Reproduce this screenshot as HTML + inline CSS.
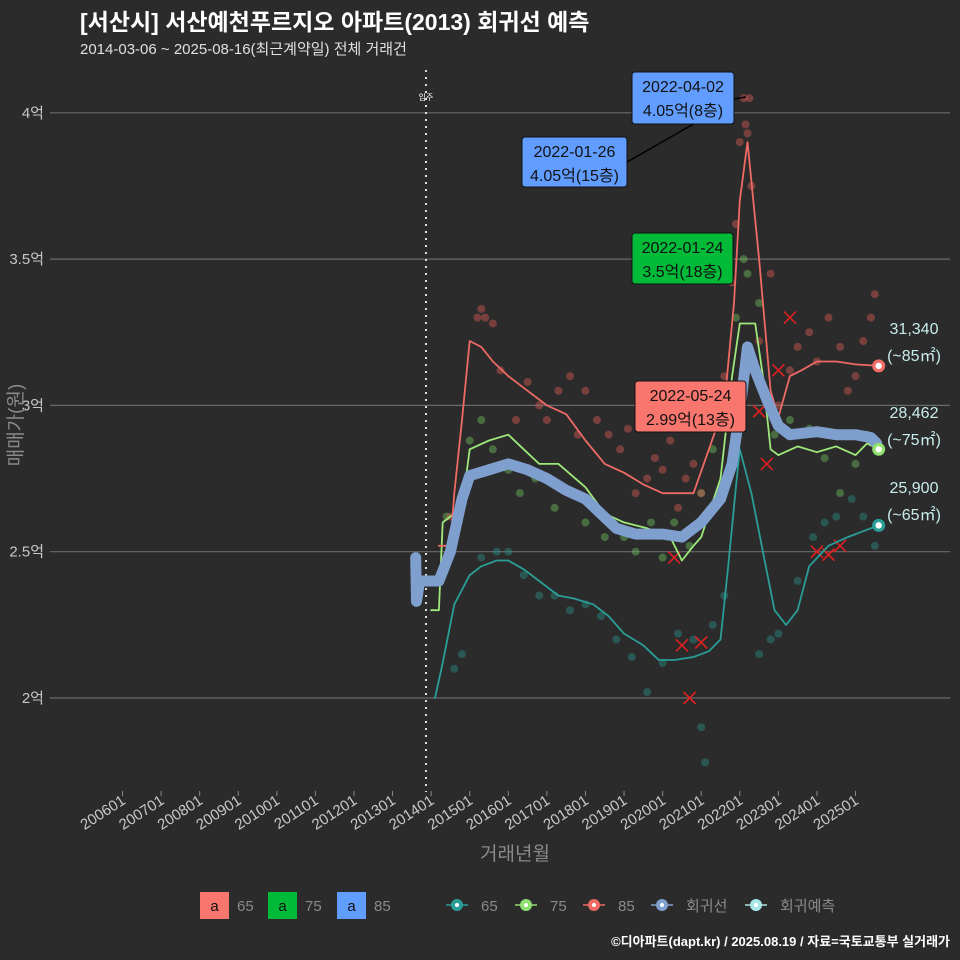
<!DOCTYPE html>
<html><head><meta charset="utf-8">
<style>
html,body{margin:0;padding:0;background:#2b2b2b;}
#wrap{position:relative;width:960px;height:960px;background:#2b2b2b;overflow:hidden;font-family:"Liberation Sans","Noto Sans CJK KR",sans-serif;}
svg text{font-family:"Liberation Sans","Noto Sans CJK KR",sans-serif;}
</style></head><body>
<div id="wrap">
<svg id="chart" width="960" height="960"></svg>
</div>
<script>
// ---- data ----
const xTickLabels = ["200601","200701","200801","200901","201001","201101","201201","201301","201401","201501","201601","201701","201801","201901","202001","202101","202201","202301","202401","202501"];
const yTickValues = [2, 2.5, 3, 3.5, 4];
const yTickLabels = ["2억","2.5억","3억","3.5억","4억"];
const regT = [2013.6,2013.62,2013.7,2014.2,2014.5,2014.8,2015.0,2015.5,2016.0,2016.5,2017.0,2017.5,2018.0,2018.4,2018.8,2019.3,2020.0,2020.5,2021.0,2021.5,2021.8,2022.0,2022.2,2022.4,2022.7,2023.0,2023.3,2024.0,2024.5,2025.0,2025.4,2025.55];
const regV = [2.48,2.33,2.4,2.4,2.5,2.68,2.76,2.78,2.8,2.78,2.75,2.71,2.68,2.63,2.58,2.56,2.56,2.55,2.6,2.68,2.8,2.98,3.2,3.12,3.02,2.93,2.9,2.91,2.9,2.9,2.89,2.87];
const redT = [2014.2,2014.5,2014.6,2014.8,2015.0,2015.3,2015.6,2016.0,2016.5,2017.0,2017.5,2018.0,2018.5,2019.0,2019.5,2020.0,2020.5,2020.8,2021.2,2021.6,2021.85,2022.0,2022.2,2022.5,2022.8,2023.0,2023.3,2023.6,2024.0,2024.5,2025.0,2025.6];
const redV = [2.52,2.52,2.7,2.95,3.22,3.2,3.15,3.1,3.05,3.0,2.97,2.88,2.8,2.77,2.73,2.7,2.7,2.7,2.85,3.0,3.35,3.7,3.9,3.5,3.05,2.96,3.1,3.12,3.15,3.15,3.14,3.135];
const grnT = [2014.0,2014.2,2014.3,2014.8,2015.0,2015.5,2016.0,2016.4,2016.8,2017.3,2018.0,2018.5,2019.0,2019.6,2020.2,2020.5,2020.8,2021.0,2021.5,2021.8,2022.0,2022.4,2022.6,2022.8,2023.0,2023.5,2024.0,2024.5,2025.0,2025.3,2025.6];
const grnV = [2.3,2.3,2.6,2.65,2.85,2.88,2.9,2.85,2.8,2.8,2.72,2.63,2.6,2.58,2.55,2.47,2.52,2.55,2.75,3.1,3.28,3.28,3.1,2.85,2.83,2.86,2.84,2.86,2.83,2.87,2.85];
const tealT = [2014.1,2014.3,2014.6,2015.0,2015.3,2015.7,2016.0,2016.4,2016.8,2017.3,2017.7,2018.2,2018.6,2019.0,2019.5,2019.9,2020.3,2020.8,2021.2,2021.5,2021.7,2021.9,2022.0,2022.3,2022.6,2022.9,2023.2,2023.5,2023.8,2024.3,2024.8,2025.2,2025.6];
const tealV = [2.0,2.12,2.32,2.42,2.45,2.47,2.47,2.44,2.4,2.35,2.34,2.32,2.28,2.22,2.18,2.13,2.13,2.14,2.16,2.2,2.45,2.72,2.85,2.7,2.5,2.3,2.25,2.3,2.45,2.52,2.55,2.57,2.59];
const redPtT = [2014.5,2015.2,2015.3,2015.4,2015.6,2015.8,2016.2,2016.5,2016.8,2017.0,2017.3,2017.6,2017.8,2018.0,2018.3,2018.6,2018.9,2019.1,2019.3,2019.6,2019.8,2020.0,2020.2,2020.4,2020.6,2020.8,2021.0,2021.3,2021.6,2021.8,2021.9,2022.0,2022.1,2022.15,2022.2,2022.25,2022.3,2022.5,2022.8,2023.0,2023.3,2023.5,2023.8,2024.0,2024.3,2024.6,2024.8,2025.0,2025.2,2025.4,2025.5];
const redPtV = [2.62,3.3,3.33,3.3,3.28,3.12,2.95,3.08,3.0,2.95,3.05,3.1,2.9,3.05,2.95,2.9,2.85,2.92,2.7,2.75,2.82,2.78,2.88,2.65,2.75,2.8,2.7,3.0,3.1,3.42,3.62,3.9,4.05,3.96,3.93,4.05,3.75,3.22,3.45,3.0,3.12,3.2,3.25,3.15,3.3,3.2,3.05,3.1,3.22,3.3,3.38];
const grnPtT = [2014.4,2014.8,2015.0,2015.3,2015.6,2016.0,2016.3,2016.7,2017.2,2017.6,2018.0,2018.5,2019.0,2019.3,2019.7,2020.0,2020.3,2020.7,2021.0,2021.3,2021.6,2021.9,2022.1,2022.2,2022.5,2022.9,2023.3,2023.8,2024.2,2024.6,2025.0,2025.3];
const grnPtV = [2.62,2.7,2.88,2.95,2.85,2.78,2.7,2.75,2.65,2.7,2.6,2.55,2.55,2.5,2.6,2.48,2.6,2.52,2.7,2.85,2.98,3.3,3.5,3.45,3.35,2.9,2.95,2.92,2.82,2.7,2.8,2.9];
const tealPtT = [2014.6,2014.8,2015.3,2015.7,2016.0,2016.4,2016.8,2017.2,2017.6,2018.0,2018.4,2018.8,2019.2,2019.6,2020.0,2020.4,2020.8,2021.0,2021.1,2021.3,2021.6,2022.5,2022.8,2023.0,2023.5,2023.9,2024.2,2024.5,2024.9,2025.2,2025.5];
const tealPtV = [2.1,2.15,2.48,2.5,2.5,2.42,2.35,2.35,2.3,2.32,2.28,2.2,2.14,2.02,2.12,2.22,2.2,1.9,1.78,2.25,2.35,2.15,2.2,2.22,2.4,2.55,2.6,2.62,2.68,2.62,2.52];
const xMarkT = [2020.3,2020.5,2020.7,2021.0,2022.5,2022.7,2023.0,2023.3,2024.0,2024.3,2024.6];
const xMarkV = [2.48,2.18,2.0,2.19,2.98,2.8,3.12,3.3,2.5,2.49,2.52];

// ---- scales ----
const X0 = 122.5, XS = 38.58;
function xs(t){ return X0 + (t-2006)*XS; }
function ys(v){ return 698 - (v-2)*292.6; }

const NS = "http://www.w3.org/2000/svg";
const svg = document.getElementById('chart');
function el(tag, attrs, parent){ const e=document.createElementNS(NS,tag); for(const k in attrs) e.setAttribute(k,attrs[k]); (parent||svg).appendChild(e); return e; }
function txt(s, attrs, parent){ const e=el('text',attrs,parent); e.textContent=s; return e; }

// grid
yTickValues.forEach((v,i)=>{
  const g = el('line',{x1:50,x2:950,y1:ys(v),y2:ys(v),stroke:'#6a6a6a','stroke-width':1.2});
  
  
  const t = txt(yTickLabels[i],{x:44,y:ys(v)+5,'text-anchor':'end',fill:'#c8c8c8','font-size':15});
  
  
});
xTickLabels.forEach((s,i)=>{
  const x = xs(2006+i);
  const tk = el('line',{x1:x,x2:x,y1:791,y2:796,stroke:'#8a8a8a','stroke-width':1});
  
  
  const t = txt(s,{x:x+4,y:803,'text-anchor':'end',fill:'#c8c8c8','font-size':15,transform:`rotate(-33 ${x+4} 803)`});
  
  
});
// move-in line
const mv = el('line',{x1:426,x2:426,y1:70,y2:792,stroke:'#dddddd','stroke-width':2,'stroke-dasharray':'2 5'});


const mvt = txt('입주',{x:426,y:100,'text-anchor':'middle',fill:'#ffffff','font-size':8});



// scatter
function pts(T,V,col,name){
  T.forEach((t,i)=>{
    const c = el('circle',{cx:xs(t),cy:ys(V[i]),r:4,fill:col,'fill-opacity':0.45});
    
    
  });
}
pts(tealPtT,tealPtV,'#2a8f88','point-65');
pts(grnPtT,grnPtV,'#6fbf5e','point-75');
pts(redPtT,redPtV,'#d85a55','point-85');
xMarkT.forEach((t,i)=>{
  const x=xs(t), y=ys(xMarkV[i]);
  const p = el('path',{d:`M${x-6} ${y-6}L${x+6} ${y+6}M${x+6} ${y-6}L${x-6} ${y+6}`,stroke:'#e02020','stroke-width':1.6});
  
  
});

function line(T,V,col,w,name){
  let d='';
  T.forEach((t,i)=>{ d += (i?'L':'M')+xs(t).toFixed(1)+' '+ys(V[i]).toFixed(1); });
  const p = el('path',{d:d,fill:'none',stroke:col,'stroke-width':w,'stroke-linejoin':'round','stroke-linecap':'round'});
  
  
}
line(tealT,tealV,'#2a9d97',1.8,'line-65');
line(grnT,grnV,'#9ee97a',1.8,'line-75');
line(redT,redV,'#ee6a64',1.8,'line-85');
line(regT,regV,'#7f9fcf',11,'regression-line');

// endpoints
[[redT,redV,'#f06d68'],[grnT,grnV,'#90e070'],[tealT,tealV,'#2a9d97']].forEach((s)=>{
  const T=s[0],V=s[1],n=T.length-1;
  const c = el('circle',{cx:xs(T[n]),cy:ys(V[n]),r:6.5,fill:s[2]});
  
  
  const c2 = el('circle',{cx:xs(T[n]),cy:ys(V[n]),r:3.2,fill:'#ffffff'});
  
  
});
// right labels
[['31,340',328],['(~85㎡)',355],['28,462',412],['(~75㎡)',439],['25,900',487],['(~65㎡)',514]].forEach(a=>{
  const t = txt(a[0],{x:914,y:a[1]+6,'text-anchor':'middle',fill:'#c9ecec','font-size':16});
  
  
});

// annotation connector
const cn = el('path',{d:'M627 162 L697 122 M734 99 L746 97',stroke:'#000','stroke-width':1.5,fill:'none'});


function box(x,y,w,h,col,l1,l2,name){
  const g = el('g',{});
  
  
  el('rect',{x:x,y:y,width:w,height:h,rx:3,fill:col,stroke:'#111','stroke-width':1},g);
  txt(l1,{x:x+w/2,y:y+20,'text-anchor':'middle',fill:'#111','font-size':16},g);
  txt(l2,{x:x+w/2,y:y+44,'text-anchor':'middle',fill:'#111','font-size':16},g);
}
box(632,72,102,52,'#619cff','2022-04-02','4.05억(8층)','annotation-max-85-a');
box(522,137,105,50,'#619cff','2022-01-26','4.05억(15층)','annotation-max-85-b');
box(632,233,101,51,'#00ba38','2022-01-24','3.5억(18층)','annotation-max-75');
box(635,381,111,51,'#f8766d','2022-05-24','2.99억(13층)','annotation-max-65');

// titles
const tt = txt('[서산시] 서산예천푸르지오 아파트(2013) 회귀선 예측',{x:80,y:30,fill:'#ffffff','font-size':23,'font-weight':'bold'});


const st = txt('2014-03-06 ~ 2025-08-16(최근계약일) 전체 거래건',{x:80,y:54,fill:'#e0e0e0','font-size':15});


const yt = txt('매매가(원)',{x:22,y:425,'text-anchor':'middle',fill:'#8a8a8a','font-size':19,transform:'rotate(-90 22 425)'});


const xt = txt('거래년월',{x:515,y:860,'text-anchor':'middle',fill:'#8a8a8a','font-size':19});



// legend
const leg = el('g',{});


[['#f8766d','65',200],['#00ba38','75',268],['#619cff','85',337]].forEach(a=>{
  const g = el('g',{},leg);
  
  
  el('rect',{x:a[2],y:892,width:29,height:27,fill:a[0]},g);
  txt('a',{x:a[2]+14.5,y:911,'text-anchor':'middle',fill:'#111','font-size':15},g);
  txt(a[1],{x:a[2]+37,y:911,fill:'#8a8a8a','font-size':15},g);
});
[['#2a9d97','65',457],['#90e070','75',526],['#ee6a64','85',594],['#7f9fcf','회귀선',662],['#a8e8e8','회귀예측',756]].forEach(a=>{
  const g = el('g',{},leg);
  
  
  el('line',{x1:a[2]-11,x2:a[2]+11,y1:905,y2:905,stroke:a[0],'stroke-width':1.5},g);
  el('circle',{cx:a[2],cy:905,r:6,fill:a[0]},g);
  el('circle',{cx:a[2],cy:905,r:2,fill:'#ffffff'},g);
  txt(a[1],{x:a[2]+24,y:911,fill:'#8a8a8a','font-size':15},g);
});
const cr = txt('©디아파트(dapt.kr) / 2025.08.19 / 자료=국토교통부 실거래가',{x:950,y:946,'text-anchor':'end',fill:'#ffffff','font-size':13,'font-weight':'bold'});


</script>
</body></html>
